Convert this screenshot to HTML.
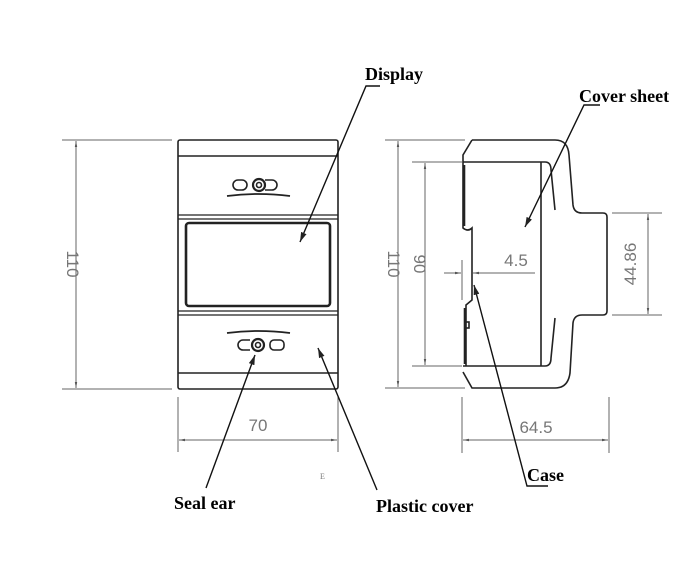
<!DOCTYPE html>
<html><head><style>
html,body{margin:0;padding:0;background:#fff;}
svg{display:block;}
.l{font-family:"Liberation Serif",serif;font-weight:bold;font-size:18px;fill:#000;}
.d{font-family:"Liberation Sans",sans-serif;font-size:17px;fill:#777;}
</style></head><body>
<svg width="700" height="567" viewBox="0 0 700 567" xmlns="http://www.w3.org/2000/svg">
<defs>
<marker id="a" viewBox="0 0 10 10" refX="10" refY="5" markerWidth="7" markerHeight="7" orient="auto-start-reverse"><path d="M0,2 L10,5 L0,8 z" fill="#222"/></marker>
<marker id="g" viewBox="0 0 10 10" refX="10" refY="5" markerWidth="8" markerHeight="6" orient="auto-start-reverse"><path d="M0,3 L10,5 L0,7 z" fill="#555"/></marker>
</defs>
<g fill="none" stroke="#222" stroke-width="1.6">
<rect x="178" y="140" width="160" height="249" rx="2"/>
<line x1="178" y1="156" x2="338" y2="156"/>
<line x1="178" y1="215" x2="338" y2="215" stroke-width="1.2"/>
<line x1="178" y1="219" x2="338" y2="219" stroke-width="1.2"/>
<rect x="186" y="223" width="144" height="83" rx="3" stroke-width="2.6"/>
<line x1="178" y1="311" x2="338" y2="311" stroke-width="1.2"/>
<line x1="178" y1="315" x2="338" y2="315" stroke-width="1.2"/>
<line x1="178" y1="373" x2="338" y2="373"/>
<rect x="233" y="180" width="14" height="10" rx="5"/>
<circle cx="259" cy="185" r="6" stroke-width="2.2"/><circle cx="259" cy="185" r="2.5"/>
<path d="M265,180 H272 A5,5 0 0 1 272,190 H265"/>
<path d="M227,196 Q258,192 290,196" stroke-width="1.8"/>
<path d="M227,333 Q258,329 290,333" stroke-width="1.8"/>
<path d="M250,340 H243 A5,5 0 0 0 243,350 H250"/>
<circle cx="258" cy="345" r="6" stroke-width="2.2"/><circle cx="258" cy="345" r="2.5"/>
<rect x="270" y="340" width="14" height="10" rx="4"/>
</g>
<g fill="none" stroke="#222" stroke-width="1.6">
<path d="M472,140 H555 Q568,140 569,155 L573,205 Q574,213 582,213 H603 Q607,213 607,217 V311 Q607,315 603,315 H582 Q574,315 573,323 L570,373 Q568,388 555,388 H472 L463,372"/>
<path d="M472,140 L463,155 V162"/>
<path d="M463,162 H545 Q551,162 551,170 L555,210"/>
<path d="M555,318 L551,358 Q551,366 545,366 H463"/>
<line x1="541" y1="162" x2="541" y2="366"/>
<path d="M463,162 V228 Q468,232 472,228 V300 L466,305 V366" />
<line x1="464" y1="165" x2="464" y2="226" stroke-width="2.6"/>
<line x1="465" y1="308" x2="465" y2="364" stroke-width="2.6"/>
<rect x="465" y="322" width="4" height="6"/>
</g>
<g stroke="#666" stroke-width="1" fill="none">
<line x1="62" y1="140" x2="172" y2="140"/><line x1="62" y1="389" x2="172" y2="389"/>
<line x1="76" y1="141" x2="76" y2="388" marker-start="url(#g)" marker-end="url(#g)"/>
<line x1="178" y1="397" x2="178" y2="452"/><line x1="338" y1="397" x2="338" y2="452"/>
<line x1="179" y1="440" x2="337" y2="440" marker-start="url(#g)" marker-end="url(#g)"/>
<line x1="385" y1="140" x2="465" y2="140"/><line x1="385" y1="388" x2="465" y2="388"/>
<line x1="398" y1="141" x2="398" y2="387" marker-start="url(#g)" marker-end="url(#g)"/>
<line x1="412" y1="162" x2="462" y2="162"/><line x1="412" y1="366" x2="462" y2="366"/>
<line x1="425" y1="163" x2="425" y2="365" marker-start="url(#g)" marker-end="url(#g)"/>
<line x1="462" y1="397" x2="462" y2="453"/><line x1="609" y1="397" x2="609" y2="453"/>
<line x1="463" y1="440" x2="608" y2="440" marker-start="url(#g)" marker-end="url(#g)"/>
<line x1="612" y1="213" x2="662" y2="213"/><line x1="612" y1="315" x2="662" y2="315"/>
<line x1="648" y1="214" x2="648" y2="314" marker-start="url(#g)" marker-end="url(#g)"/>
<line x1="462" y1="260" x2="462" y2="300"/>
<line x1="444" y1="273" x2="461" y2="273" marker-end="url(#g)"/>
<line x1="490" y1="273" x2="473" y2="273" marker-end="url(#g)"/>
<line x1="490" y1="273" x2="535" y2="273"/>
</g>
<text class="d" transform="translate(67,264) rotate(90)" text-anchor="middle">110</text>
<text class="d" x="258" y="431" text-anchor="middle">70</text>
<text class="d" transform="translate(388,264) rotate(90)" text-anchor="middle">110</text>
<text class="d" transform="translate(414,264) rotate(90)" text-anchor="middle">90</text>
<text class="d" x="536" y="433" text-anchor="middle">64.5</text>
<text class="d" transform="translate(636,264) rotate(-90)" text-anchor="middle">44.86</text>
<text class="d" x="516" y="266" text-anchor="middle">4.5</text>
<g stroke="#111" stroke-width="1.4" fill="none">
<polyline points="380,86 366,86 300,242" marker-end="url(#a)"/>
<polyline points="600,105 584,105 525,227" marker-end="url(#a)"/>
<polyline points="548,486 527,486 474,285" marker-end="url(#a)"/>
<line x1="206" y1="488" x2="255" y2="355" marker-end="url(#a)"/>
<line x1="377" y1="490" x2="318" y2="348" marker-end="url(#a)"/>
</g>
<text class="l" x="365" y="80">Display</text>
<text class="l" x="579" y="102">Cover sheet</text>
<text class="l" x="527" y="481">Case</text>
<text class="l" x="174" y="509">Seal ear</text>
<text class="l" x="376" y="512">Plastic cover</text>
<text x="320" y="479" font-family="Liberation Serif,serif" font-size="8" fill="#777">E</text>
</svg>
</body></html>
